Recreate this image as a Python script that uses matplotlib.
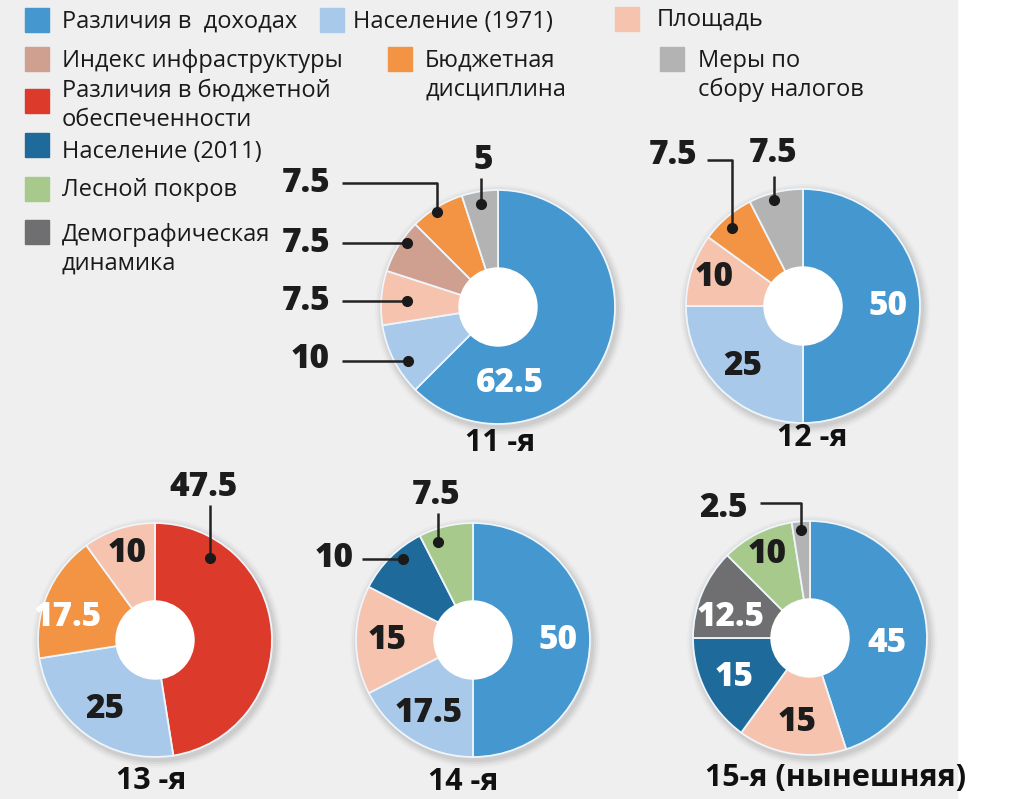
import matplotlib
matplotlib.use('Agg')
import matplotlib.pyplot as plt
from matplotlib.patches import Rectangle, Circle
import numpy as np

# ---------------- data ----------------
category_keys = ['income', 'pop1971', 'area', 'infra', 'fiscal', 'tax',
                 'fiscal_gap', 'pop2011', 'forest', 'demo']
category_labels = ['Различия в  доходах', 'Население (1971)', 'Площадь',
                   'Индекс инфраструктуры', 'Бюджетная\nдисциплина',
                   'Меры по\nсбору налогов',
                   'Различия в бюджетной\nобеспеченности', 'Население (2011)',
                   'Лесной покров', 'Демографическая\nдинамика']
category_colors = ['#4597cf', '#a9c9ea', '#f6c3af', '#cf9f90', '#f29444',
                   '#b3b3b3', '#dc3b2c', '#1e6b9b', '#a7c98b', '#6f6f71']

commission_titles = ['11 -я', '12 -я', '13 -я', '14 -я', '15-я (нынешняя)']

fc11_cats = ['income', 'pop1971', 'area', 'infra', 'fiscal', 'tax']
fc11_values = [62.5, 10, 7.5, 7.5, 7.5, 5]
fc12_cats = ['income', 'pop1971', 'area', 'fiscal', 'tax']
fc12_values = [50, 25, 10, 7.5, 7.5]
fc13_cats = ['fiscal_gap', 'pop1971', 'fiscal', 'area']
fc13_values = [47.5, 25, 17.5, 10]
fc14_cats = ['income', 'pop1971', 'area', 'pop2011', 'forest']
fc14_values = [50, 17.5, 15, 10, 7.5]
fc15_cats = ['income', 'area', 'pop2011', 'demo', 'forest', 'tax']
fc15_values = [45, 15, 15, 12.5, 10, 2.5]

# ---------------- layout ----------------
W, H = 1009, 799
centers = [(498, 307), (803, 306), (155, 640), (473, 640), (810, 638)]
R_OUT, R_HOLE = 117, 39
title_pos = [(500, 443), (812, 438), (151, 781), (463, 782), (836, 778)]

white_text = {'income', 'fiscal', 'pop2011', 'demo'}
inside_override = {(0, 0): (171, 0.66), (1, 2): (None, 0.80), (4, 4): (None, 0.81),
                   (2, 3): (None, 0.78), (2, 2): (285, 0.77),
                   (4, 0): (94, 0.66), (4, 3): (285, 0.70)}
# outside labels: (label x, label y, ha, leader path ending at dot)
outside = {
    (0, 5): (483, 160, 'center', [(481, 178), (481, 204)]),
    (0, 4): (330, 183, 'right', [(342, 183), (437, 183), (437, 212)]),
    (0, 3): (330, 243, 'right', [(342, 243), (407, 243)]),
    (0, 2): (330, 301, 'right', [(342, 301), (407, 301)]),
    (0, 1): (330, 359, 'right', [(342, 361), (408, 361)]),
    (1, 3): (697, 155, 'right', [(707, 160), (732, 160), (732, 228)]),
    (1, 4): (773, 153, 'center', [(774, 176), (774, 200)]),
    (2, 0): (203, 487, 'center', [(210, 505), (210, 558)]),
    (3, 4): (436, 495, 'center', [(438, 513), (438, 542)]),
    (3, 3): (354, 558, 'right', [(362, 559), (403, 559)]),
    (4, 5): (748, 508, 'right', [(760, 503), (801, 503), (801, 530)]),
}

legend_layout = [
    ('income', 25, 8, 62, 20), ('pop1971', 320, 8, 353, 20),
    ('area', 615, 7, 657, 18), ('infra', 25, 47, 62, 59),
    ('fiscal', 388, 47, 425, 59), ('tax', 660, 47, 698, 59),
    ('fiscal_gap', 25, 89, 62, 89), ('pop2011', 25, 133, 62, 150),
    ('forest', 25, 177, 62, 188), ('demo', 25, 220, 62, 233),
]

NUM_FONT = dict(family='Open Sans', fontweight=800, fontsize=24)
DARK = '#1c1c1c'

# ---------------- drawing ----------------
fig = plt.figure(figsize=(W / 100, H / 100), dpi=100)
ax = fig.add_axes([0, 0, 1, 1])
ax.add_patch(Rectangle((0, 0), 957, H, color='#efefef', zorder=0))

color_of = dict(zip(category_keys, category_colors))
label_of = dict(zip(category_keys, category_labels))

# legend
for key, sx, sy, tx, ty in legend_layout:
    ax.add_patch(Rectangle((sx, sy), 24, 24, color=color_of[key], zorder=3))
    for i, line in enumerate(label_of[key].split('\n')):
        ax.text(tx, ty + 8 + i * 29, line, family='Open Sans', fontsize=17,
                color='#1a1a1a', ha='left', va='baseline', zorder=4)

all_cats = [fc11_cats, fc12_cats, fc13_cats, fc14_cats, fc15_cats]
all_vals = [fc11_values, fc12_values, fc13_values, fc14_values, fc15_values]

for k, (cats, vals) in enumerate(zip(all_cats, all_vals)):
    cx, cy = centers[k]
    # soft shadow
    for j, a in enumerate([0.05, 0.04, 0.03, 0.02]):
        ax.add_patch(Circle((cx + 2, cy + 3), R_OUT + 2 + 2 * j, color='#000000',
                            alpha=a, lw=0, zorder=1))
    ax.pie(vals, colors=[color_of[c] for c in cats], startangle=-90,
           counterclock=True, center=(cx, cy), radius=R_OUT, frame=True,
           wedgeprops=dict(edgecolor='#eef5fb', linewidth=1.3, zorder=2))
    ax.add_patch(Circle((cx, cy), R_HOLE, color='white', zorder=5))

    total = float(sum(vals))
    cum = 0.0
    for i, (c, v) in enumerate(zip(cats, vals)):
        mid = (cum + v / 2) / total * 360.0
        cum += v
        txt = f'{v:g}'
        if (k, i) in outside:
            lx, ly, ha, path = outside[(k, i)]
            ax.text(lx, ly, txt, ha=ha, va='center', color=DARK, zorder=7,
                    **NUM_FONT)
            xs = [p[0] for p in path]
            ys = [p[1] for p in path]
            ax.plot(xs, ys, color='#222222', lw=1.8, zorder=6,
                    solid_capstyle='butt')
            ax.plot(xs[-1], ys[-1], 'o', color='#1a1a1a', ms=7, zorder=6)
            continue
        ang, rf = mid, 0.73
        if (k, i) in inside_override:
            oa, rf = inside_override[(k, i)]
            if oa is not None:
                ang = oa
        phi = np.deg2rad(ang)
        x = cx + rf * R_OUT * np.sin(phi)
        y = cy - rf * R_OUT * np.cos(phi)
        col = 'white' if c in white_text else DARK
        ax.text(x, y, txt, ha='center', va='center', color=col, zorder=7,
                **NUM_FONT)

    tx, ty = title_pos[k]
    ax.text(tx, ty, commission_titles[k], ha='center', va='center',
            family='Open Sans', fontweight='bold', fontsize=22, color='#111111',
            zorder=7)

ax.set_xlim(0, W)
ax.set_ylim(H, 0)
ax.set_aspect('auto')
ax.axis('off')
fig.savefig('out.png', dpi=100, facecolor='white')
